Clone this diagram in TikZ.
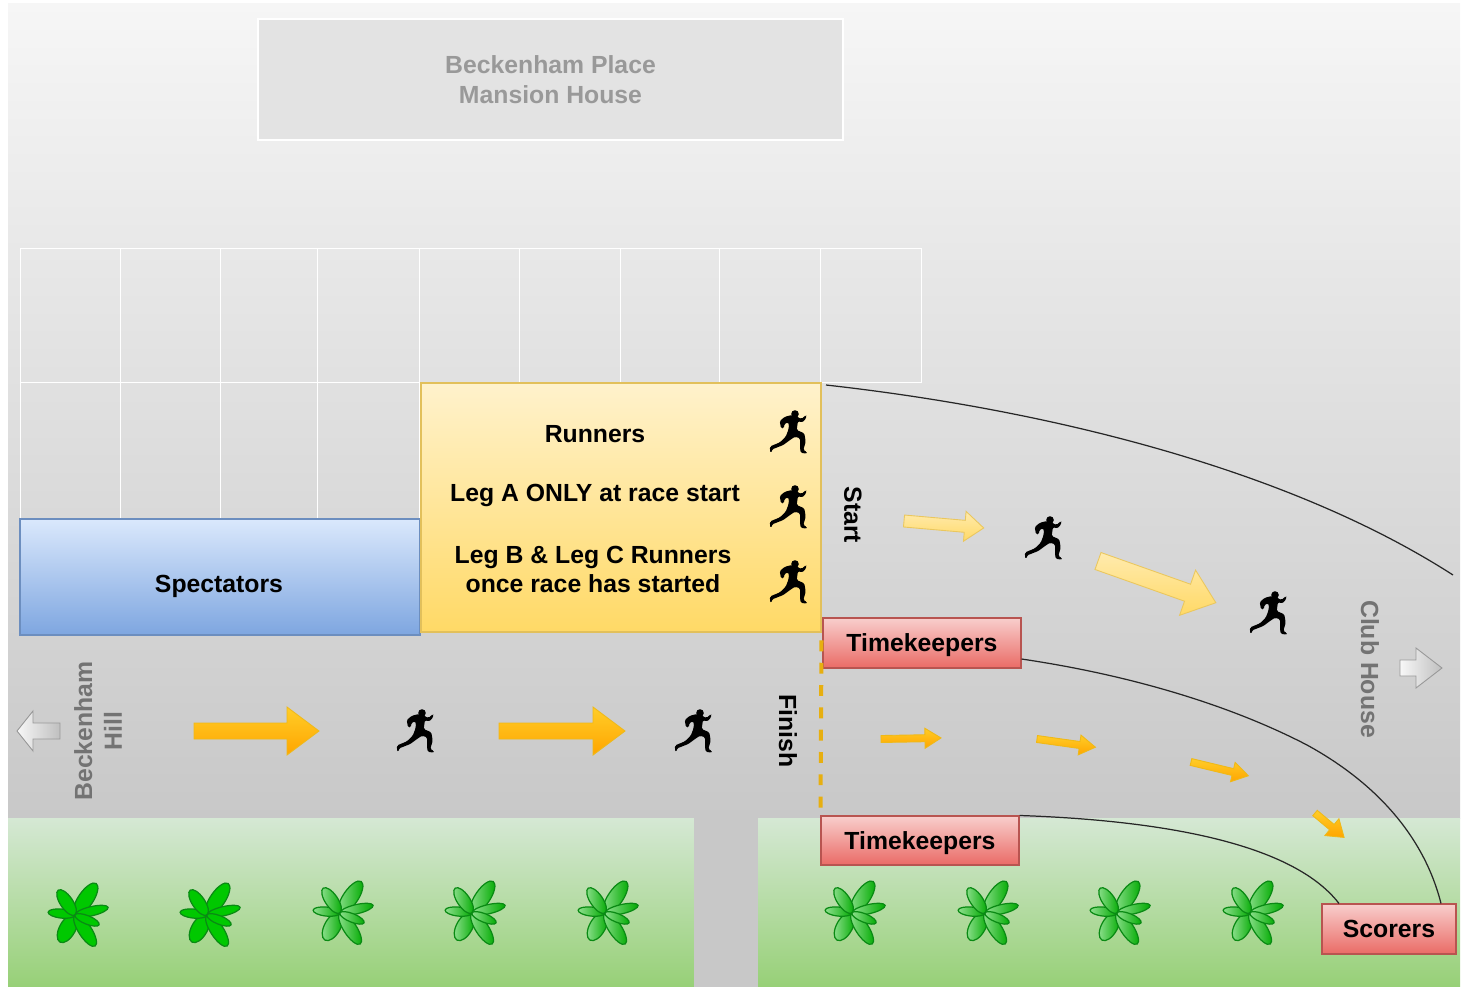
\documentclass[tikz,border=0pt]{standalone}
\usepackage{fontspec}
\setmainfont{Liberation Sans}
\usepackage{tikz}
\usetikzlibrary{arrows,arrows.meta}
\definecolor{skytop}{HTML}{F6F6F6}
\definecolor{skybottom}{HTML}{C8C8C8}
\definecolor{grasstop}{HTML}{D5E8D4}
\definecolor{grassbottom}{HTML}{97D077}
\definecolor{goldtop}{HTML}{FFF2CC}
\definecolor{goldbottom}{HTML}{FFD966}
\definecolor{goldline}{HTML}{D6B656}
\definecolor{bluetop}{HTML}{DAE8FC}
\definecolor{bluebottom}{HTML}{7EA6E0}
\definecolor{blueline}{HTML}{6C8EBF}
\definecolor{redtop}{HTML}{F8CECC}
\definecolor{redbottom}{HTML}{EA6B66}
\definecolor{redline}{HTML}{B85450}
\definecolor{ambertop}{HTML}{FFCD28}
\definecolor{amberbottom}{HTML}{FFA500}
\definecolor{amberline}{HTML}{D79B00}
\definecolor{leafdark}{HTML}{0A8A14}
\definecolor{leaffull}{HTML}{00C800}
\definecolor{leafpale}{HTML}{8FE08F}
\tikzset{%
    plantext/.style={font=\bfseries\fontsize{14.1}{17}\selectfont, align=center, inner sep=0pt},
    fadedtext/.style={plantext, text=black!40},
    roadtext/.style={plantext, text=black!55},
    housebox/.style={draw=white, fill=black!11},
    bluebox/.style={draw=blueline, top color=bluetop, bottom color=bluebottom},
    goldbox/.style={draw=goldline!70!goldbottom, top color=goldtop, bottom color=goldbottom},
    redbox/.style={draw=redline, top color=redtop, bottom color=redbottom},
    goldarrow/.style={draw=goldline!50!goldbottom, top color=goldtop!70!goldbottom, bottom color=goldbottom},
    amberarrow/.style={draw=amberline!40!ambertop, top color=ambertop, bottom color=amberbottom},
    greyarrow/.style={draw=black!40, left color=black!3, right color=black!25},
    leafsolid/.style={draw=leafdark, fill=leaffull, line width=0.7pt},
    leafshade/.style={draw=leafdark, left color=leafpale, right color=leaffull!85!black, line width=0.7pt},
    runner/.pic={
        \fill[black] (7,-18) circle (3.8);
        \fill[black, rounded corners=0.8pt] (9.3,-15.3) -- (13,-13) -- (16,-15) -- (17.7,-17) -- (18.7,-15.7)
            -- (16.3,-11) -- (13,-9.7) -- (10,-11) -- (9.3,-6.3) -- (8.7,-2) -- (16.3,1.3) -- (17.7,9.7)
            -- (15.3,18) -- (19,20) -- (18.7,21.7) -- (12.7,20.7) -- (12,15.7) -- (12,6.3) -- (7,4.7)
            -- (2,8) -- (-4.7,13) -- (-15.7,17.3) -- (-17,21.3) -- (-18.3,18) -- (-17.7,14.3) -- (-8,10.3)
            -- (-2.3,4.7) -- (0.3,-2) -- (1,-7) -- (0.3,-9.7) -- (-3.7,-8) -- (-4,-3.7) -- (-7,-3.7)
            -- (-8.3,-11) -- (-3,-15.3) -- (3.7,-17) -- cycle;
    },
    flower/.pic={
        \path[pic actions, rotate=241] (15.5,0) ellipse (15.5 and 8);
        \path[pic actions, rotate=303] (18.5,0) ellipse (18.5 and 6.5);
        \path[pic actions, rotate=174] (13.5,0) ellipse (13.5 and 4.5);
        \path[pic actions, rotate=56] (19,0) ellipse (19 and 7.5);
        \path[pic actions, rotate=124] (15,0) ellipse (15 and 6.3);
        \path[pic actions, rotate=13] (17,0) ellipse (17 and 4.6);
        \path[pic actions, rotate=-22] (13,0) ellipse (13 and 4.3);
    }
}
\newcommand\PlanBox[7]{%
    \node[#6, inner sep=0pt, line width=0.6pt, minimum width=#4*0.02cm, minimum height=#5*0.02cm, plantext] (#1) at (#2,#3) {#7}
}
\newcommand\PlanCell[4]{%
    \draw[draw=white, line width=0.35pt] (#1,#2) rectangle (#3,#4)
}
\newcommand\BlockArrow[8]{%
    \begin{scope}[shift={(#1,#2)}, rotate=#3]
        \draw[#8, line width=0.5pt] (0,-#5) -- ({#4-#7},-#5) -- ({#4-#7},-#6) -- (#4,0) -- ({#4-#7},#6) -- ({#4-#7},#5) -- (0,#5) -- cycle;
    \end{scope}
}

\begin{document}
\begin{tikzpicture}[x=0.02cm, y=-0.02cm]
      \useasboundingbox (0,0) rectangle (1467,987);

      % ground
      \fill[top color=skytop, bottom color=skybottom] (8,3) rectangle (1460,818);
      \fill[top color=grasstop, bottom color=grassbottom] (8,818) rectangle (1460,987);
      \fill[skybottom] (694,818) rectangle (758,987);

      \PlanBox{mansion}{550.5}{79.5}{585}{121}{housebox, fadedtext, line width=0.35pt}{Beckenham Place\\Mansion House};

      \PlanCell{20}{248}{120}{382};
      \PlanCell{120}{248}{220}{382};
      \PlanCell{220}{248}{317}{382};
      \PlanCell{317}{248}{419}{382};
      \PlanCell{419}{248}{519}{382};
      \PlanCell{519}{248}{620}{382};
      \PlanCell{620}{248}{719}{382};
      \PlanCell{719}{248}{820}{382};
      \PlanCell{820}{248}{921}{382};
      \PlanCell{20}{382}{120}{518};
      \PlanCell{120}{382}{220}{518};
      \PlanCell{220}{382}{317}{518};
      \PlanCell{317}{382}{419}{518};

      \PlanBox{spectators}{220}{577}{400}{116}{bluebox}{};
      \PlanBox{runnersbox}{621}{507.5}{400}{249}{goldbox}{};
      \node[plantext] (spectatorstext) at (219,586.5) {Spectators};
      \node[plantext] (runnerstext) at (595,434) {Runners};
      \node[plantext] (legatext) at (595,495.5) {Leg A ONLY at race start};
      \node[plantext] (legbtext) at (593,569.5) {Leg B \& Leg C Runners\\once race has started};

      \pic at (788,432) {runner};
      \pic at (788,507) {runner};
      \pic at (788,582) {runner};
      \pic at (1043,538) {runner};
      \pic at (1268,613) {runner};
      \pic at (415,731) {runner};
      \pic at (693,731) {runner};

      \node[plantext, rotate=-90] (starttext) at (853,515) {Start};
      \node[plantext, rotate=-90] (finishtext) at (788,731) {Finish};
      \node[roadtext, rotate=-90] (clubtext) at (1370,669) {Club House};
      \node[roadtext, rotate=90] (hilltext) at (98,731) {Beckenham\\Hill};

      \BlockArrow{904}{521}{-5}{80}{6}{15}{19}{goldarrow};
      \BlockArrow{1098}{561}{-19.5}{125}{9}{24}{30}{goldarrow};
      \BlockArrow{194}{731}{0}{125}{8}{24}{32}{amberarrow};
      \BlockArrow{499}{731}{0}{126}{8}{24}{32}{amberarrow};
      \BlockArrow{881}{739}{1}{60}{3.5}{10}{16}{amberarrow};
      \BlockArrow{1037}{739}{-8}{59}{3.5}{10}{16}{amberarrow};
      \BlockArrow{1191}{762}{-13.5}{59}{3.5}{10}{16}{amberarrow};
      \BlockArrow{1315}{813}{-40}{38}{3.5}{11}{16}{amberarrow};
      \BlockArrow{60}{731}{180}{43}{8}{20}{16}{greyarrow};
      \BlockArrow{1400}{668}{0}{42}{8}{20}{26}{greyarrow};

      \PlanBox{keeperstop}{922}{643}{198}{50}{redbox, text depth=0pt}{Timekeepers};
      \PlanBox{keepersbottom}{920}{840.5}{198}{49}{redbox, text depth=0pt}{Timekeepers};
      \PlanBox{scorers}{1389}{929}{134}{50}{redbox}{Scorers};

      \draw[draw=amberline!60!ambertop, line width=2.3pt, dash pattern=on 6.2pt off 6.5pt, dash phase=8.2pt] (runnersbox.south east) -- (keepersbottom.north west);

      \pic[leafsolid] at (75,915) {flower};
      \pic[leafsolid] at (207,915) {flower};
      \pic[leafshade] at (340,913) {flower};
      \pic[leafshade] at (472,913) {flower};
      \pic[leafshade] at (605,913) {flower};
      \pic[leafshade] at (852,913) {flower};
      \pic[leafshade] at (985,913) {flower};
      \pic[leafshade] at (1117,913) {flower};
      \pic[leafshade] at (1250,913) {flower};

      % course edges
      \coordinate (edgestart) at (826,385);
      \coordinate (edgeend) at (1453,575);
      \coordinate (edgebend) at (1307,745);
      \draw[black!85, line width=0.7pt] (edgestart) .. controls (1050,410) and (1290,470) .. (edgeend);
      \draw[black!85, line width=0.7pt] (keeperstop.east |- 0,659) .. controls (1130,675) and (1230,705) .. (edgebend) .. controls (1380,785) and (1425,840) .. (scorers.north -| 1441,0);
      \draw[black!85, line width=0.7pt] (keepersbottom.north east) .. controls (1150,820) and (1290,840) .. (scorers.north -| 1339,0);
\end{tikzpicture}
\end{document}
